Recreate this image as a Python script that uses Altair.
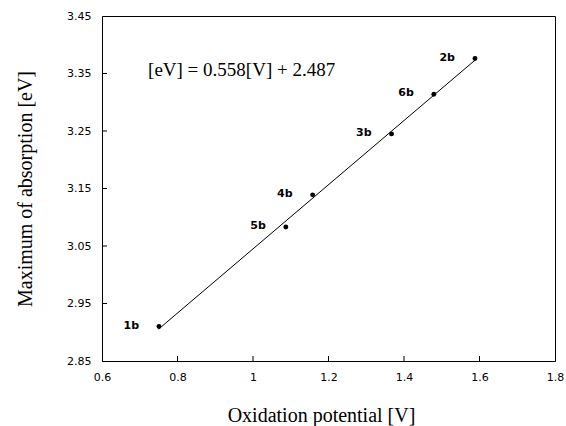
import altair as alt
import pandas as pd

# Compounds: oxidation potential (V) vs. maximum of absorption (eV)
compounds = ["1b", "5b", "4b", "3b", "6b", "2b"]
oxidation_v = [0.751, 1.087, 1.158, 1.367, 1.479, 1.588]
absorption_ev = [2.910, 3.083, 3.139, 3.245, 3.314, 3.376]

# Linear fit: [eV] = slope*[V] + intercept
slope = 0.558
intercept = 2.487
fit_x = [0.75, 1.59]

x_ticks = [0.6, 0.8, 1.0, 1.2, 1.4, 1.6, 1.8]
y_ticks = [2.85, 2.95, 3.05, 3.15, 3.25, 3.35, 3.45]

equation = "[eV] = 0.558[V] + 2.487"
eq_pos = {"x": 0.722, "y": 3.356}

W, H = 453, 345
SANS = "DejaVu Sans"
SERIF = "Liberation Serif"

pts = pd.DataFrame({"label": compounds, "V": oxidation_v, "eV": absorption_ev})
fit = pd.DataFrame({"V": fit_x})

xscale = alt.Scale(domain=[0.6, 1.8], nice=False, zero=False)
yscale = alt.Scale(domain=[2.85, 3.45], nice=False, zero=False)

xaxis = alt.Axis(values=x_ticks, title="Oxidation potential [V]", grid=False,
                 ticks=False, labelFont=SANS, labelFontSize=11, labelColor="black",
                 labelPadding=10, titleFont=SERIF, titleFontSize=20,
                 titleFontWeight="normal", titleColor="black", titlePadding=23,
                 titleX=219, titleAlign="center",
                 domainColor="black", labelFlush=False, format="~g")
yaxis = alt.Axis(values=y_ticks, title="Maximum of absorption [eV]", grid=False,
                 ticks=False, labelFont=SANS, labelFontSize=11, labelColor="black",
                 labelPadding=11, titleFont=SERIF, titleFontSize=20,
                 titleFontWeight="normal", titleColor="black", titlePadding=31,
                 domainColor="black", labelFlush=False, format=".2f")

line = alt.Chart(fit).transform_calculate(
    eV=f"{slope}*datum.V + {intercept}"
).mark_line(color="black", strokeWidth=1).encode(
    x=alt.X("V:Q", scale=xscale, axis=xaxis),
    y=alt.Y("eV:Q", scale=yscale, axis=yaxis),
)

points = alt.Chart(pts).mark_circle(color="black", size=24, opacity=1).encode(
    x=alt.X("V:Q", scale=xscale),
    y=alt.Y("eV:Q", scale=yscale),
)

labels = alt.Chart(pts).mark_text(
    font=SANS, fontSize=11, fontWeight="bold", align="right",
    baseline="middle", dx=-20, dy=-1, color="black"
).encode(
    x=alt.X("V:Q", scale=xscale),
    y=alt.Y("eV:Q", scale=yscale),
    text="label:N",
)

eq = alt.Chart(pd.DataFrame([eq_pos])).mark_text(
    font=SERIF, fontSize=19, align="left", baseline="middle", color="black"
).encode(
    x=alt.X("x:Q", scale=xscale),
    y=alt.Y("y:Q", scale=yscale),
    text=alt.value(equation),
)

# inward tick marks on the left and bottom axes
ytick = alt.Chart(pd.DataFrame({"t": y_ticks[1:-1]})).mark_rule(
    color="black", strokeWidth=1
).encode(y=alt.Y("t:Q", scale=yscale), x=alt.value(0), x2=alt.value(5))

xtick = alt.Chart(pd.DataFrame({"t": x_ticks[1:-1]})).mark_rule(
    color="black", strokeWidth=1
).encode(x=alt.X("t:Q", scale=xscale), y=alt.value(H), y2=alt.value(H - 5))

chart = alt.layer(line, points, labels, eq, ytick, xtick).properties(
    width=W, height=H,
    autosize=alt.AutoSizeParams(type="none"),
    padding={"left": 102, "top": 16, "right": 11, "bottom": 65},
    background="white",
).configure_view(stroke="black", strokeWidth=1)

chart.save("out.html", embed_options={"renderer": "svg", "actions": False})
